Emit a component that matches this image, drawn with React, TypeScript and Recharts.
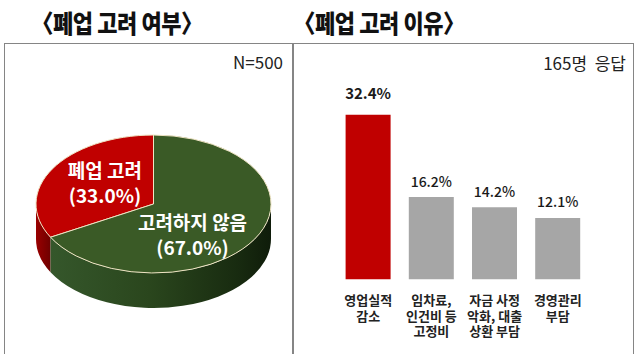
import { PieChart, Pie, Cell, BarChart, Bar, XAxis, YAxis, LabelList } from 'recharts';

const PIE_NAMES = ['폐업 고려', '고려하지 않음'];
const PIE_VALUES = [33.0, 67.0];

const REASONS = ['영업실적\n감소', '임차료,\n인건비 등\n고정비', '자금 사정\n악화, 대출\n상환 부담', '경영관리\n부담'];
const REASON_VALUES = [32.4, 16.2, 14.2, 12.1];

const PIE_COLORS = ['#C00000', '#3A5A26'];
const BAR_COLORS = ['#C00000', '#A6A6A6', '#A6A6A6', '#A6A6A6'];

const FONT = '"Noto Sans CJK KR", "Noto Sans", sans-serif';
const RAD = Math.PI / 180;
const TILT = 0.587; // vertical squash of the pie top
const DEPTH = 35; // thickness of the pie

// label spots as fractions of the ellipse radii, measured from the pie centre
const LABEL_SPOTS = [
  [-0.413, -0.371],
  [0.332, 0.377],
];

const pieData = PIE_NAMES.map((name, i) => ({ name, value: PIE_VALUES[i] }));
const barData = REASONS.map((name, i) => ({ name, value: REASON_VALUES[i] }));

const PieSlice = (props: any) => {
  const { cx, cy, outerRadius, startAngle, endAngle, fill } = props;
  const rx = outerRadius;
  const ry = outerRadius * TILT;
  const pt = (a: number, dy = 0) => `${cx + rx * Math.cos(a * RAD)},${cy - ry * Math.sin(a * RAD) + dy}`;
  const a1 = Math.min(startAngle, endAngle);
  const a2 = Math.max(startAngle, endAngle);
  const top = `M${cx},${cy} L${pt(a1)} A${rx},${ry} 0 ${a2 - a1 > 180 ? 1 : 0} 0 ${pt(a2)} Z`;
  const s = Math.max(a1, 180);
  const e = Math.min(a2, 360);
  const isRed = fill === PIE_COLORS[0];
  const gid = isRed ? 'sideRed' : 'sideGreen';
  let side = null;
  if (e > s) {
    const big = e - s > 180 ? 1 : 0;
    const d = `M${pt(s)} A${rx},${ry} 0 ${big} 0 ${pt(e)} L${pt(e, DEPTH)} A${rx},${ry} 0 ${big} 1 ${pt(s, DEPTH)} Z`;
    side = <path d={d} fill={`url(#${gid})`} stroke="none" />;
  }
  return (
    <g>
      <defs>
        <linearGradient id="sideRed" x1="0" y1="0" x2="1" y2="0">
          <stop offset="0" stopColor="#9a0000" />
          <stop offset="1" stopColor="#6e0000" />
        </linearGradient>
        <linearGradient id="sideGreen" x1="0" y1="0" x2="1" y2="0">
          <stop offset="0" stopColor="#35572b" />
          <stop offset="0.45" stopColor="#2a461d" />
          <stop offset="0.85" stopColor="#182b10" />
          <stop offset="1" stopColor="#0f1c0a" />
        </linearGradient>
      </defs>
      {side}
      <path d={top} fill={fill} stroke="#efe4c4" strokeWidth={1} strokeLinejoin="round" />
    </g>
  );
};

const renderPieLabel = (p: any) => {
  const { cx, cy, outerRadius, index } = p;
  const name = p.name ?? p.payload?.name;
  const value = p.value ?? p.payload?.value;
  const [fx, fy] = LABEL_SPOTS[index];
  const x = cx + fx * outerRadius;
  const y = cy + fy * outerRadius * TILT;
  return (
    <text x={x} y={y} textAnchor="middle" fill="#fff" fontSize={19} fontWeight={700} fontFamily={FONT}>
      <tspan x={x}>{name}</tspan>
      <tspan x={x} dy={24.5}>({Number(value).toFixed(1)}%)</tspan>
    </text>
  );
};

const ReasonTick = (props: any) => {
  const { x, y, payload } = props;
  const lines = String(payload.value).split('\n');
  return (
    <text x={x} y={y} textAnchor="middle" fill="#222" fontSize={13} fontWeight={700} fontFamily={FONT}>
      {lines.map((line, i) => (
        <tspan key={i} x={x} dy={i === 0 ? 18 : 15.5}>{line}</tspan>
      ))}
    </text>
  );
};

const renderValue = (p: any) => {
  const { x, y, width, value, index } = p;
  const first = index === 0;
  return (
    <text
      x={x + width / 2}
      y={y - (first ? 15.4 : 10.5)}
      textAnchor="middle"
      fill="#1a1a1a"
      fontSize={first ? 15 : 14}
      fontWeight={first ? 700 : 500}
      fontFamily={FONT}
    >
      {Number(value).toFixed(1)}%
    </text>
  );
};

const titleStyle = (cx: number): React.CSSProperties => ({
  position: 'absolute',
  left: cx,
  top: 21.5,
  transform: 'translate(-50%, -50%) scaleX(0.88)',
  fontFamily: FONT,
  fontSize: 25,
  fontWeight: 900,
  color: '#111',
  whiteSpace: 'pre',
  lineHeight: 1,
  letterSpacing: -0.5,
});

const noteStyle: React.CSSProperties = {
  position: 'absolute',
  fontFamily: FONT,
  fontSize: 17,
  color: '#222',
  lineHeight: '20px',
  whiteSpace: 'pre',
};

export default function App() {
  return (
    <div style={{ position: 'absolute', left: 0, top: 0, width: 640, height: 354, background: '#fff', overflow: 'hidden' }}>
      <div style={titleStyle(117)}>〈폐업 고려 여부〉</div>
      <div style={titleStyle(379)}>〈폐업 고려 이유〉</div>

      <div style={{ position: 'absolute', left: 4, top: 43, width: 628, height: 330, border: '1.5px solid #858585' }} />
      <div style={{ position: 'absolute', left: 292, top: 43, width: 1.5, height: 330, background: '#858585' }} />

      <div style={{ ...noteStyle, right: 640 - 283, top: 51.5 }}>N=500</div>
      <div style={{ ...noteStyle, right: 640 - 626, top: 53 }}>165명  응답</div>

      <div style={{ position: 'absolute', left: 0, top: 0 }}>
        <PieChart width={293} height={354}>
          <Pie
            data={pieData}
            dataKey="value"
            nameKey="name"
            cx={148.5}
            cy={199}
            outerRadius={117.5}
            startAngle={90}
            endAngle={450}
            shape={PieSlice}
            activeShape={PieSlice}
            inactiveShape={PieSlice}
            label={renderPieLabel}
            labelLine={false}
            isAnimationActive={false}
          >
            {pieData.map((entry, index) => (
              <Cell key={`slice-${index}`} fill={PIE_COLORS[index]} />
            ))}
          </Pie>
        </PieChart>
      </div>

      <div style={{ position: 'absolute', left: 293, top: 0 }}>
        <BarChart width={347} height={354} data={barData} margin={{ top: 76.3, right: 50.6, left: 43.6, bottom: 14.7 }}>
          <XAxis dataKey="name" interval={0} height={60} tickLine={false} axisLine={false} tick={<ReasonTick />} />
          <YAxis hide domain={[0, 40]} />
          <Bar dataKey="value" barSize={45} isAnimationActive={false}>
            {barData.map((entry, index) => (
              <Cell key={`bar-${index}`} fill={BAR_COLORS[index]} />
            ))}
            <LabelList dataKey="value" content={renderValue} />
          </Bar>
        </BarChart>
      </div>
    </div>
  );
}
